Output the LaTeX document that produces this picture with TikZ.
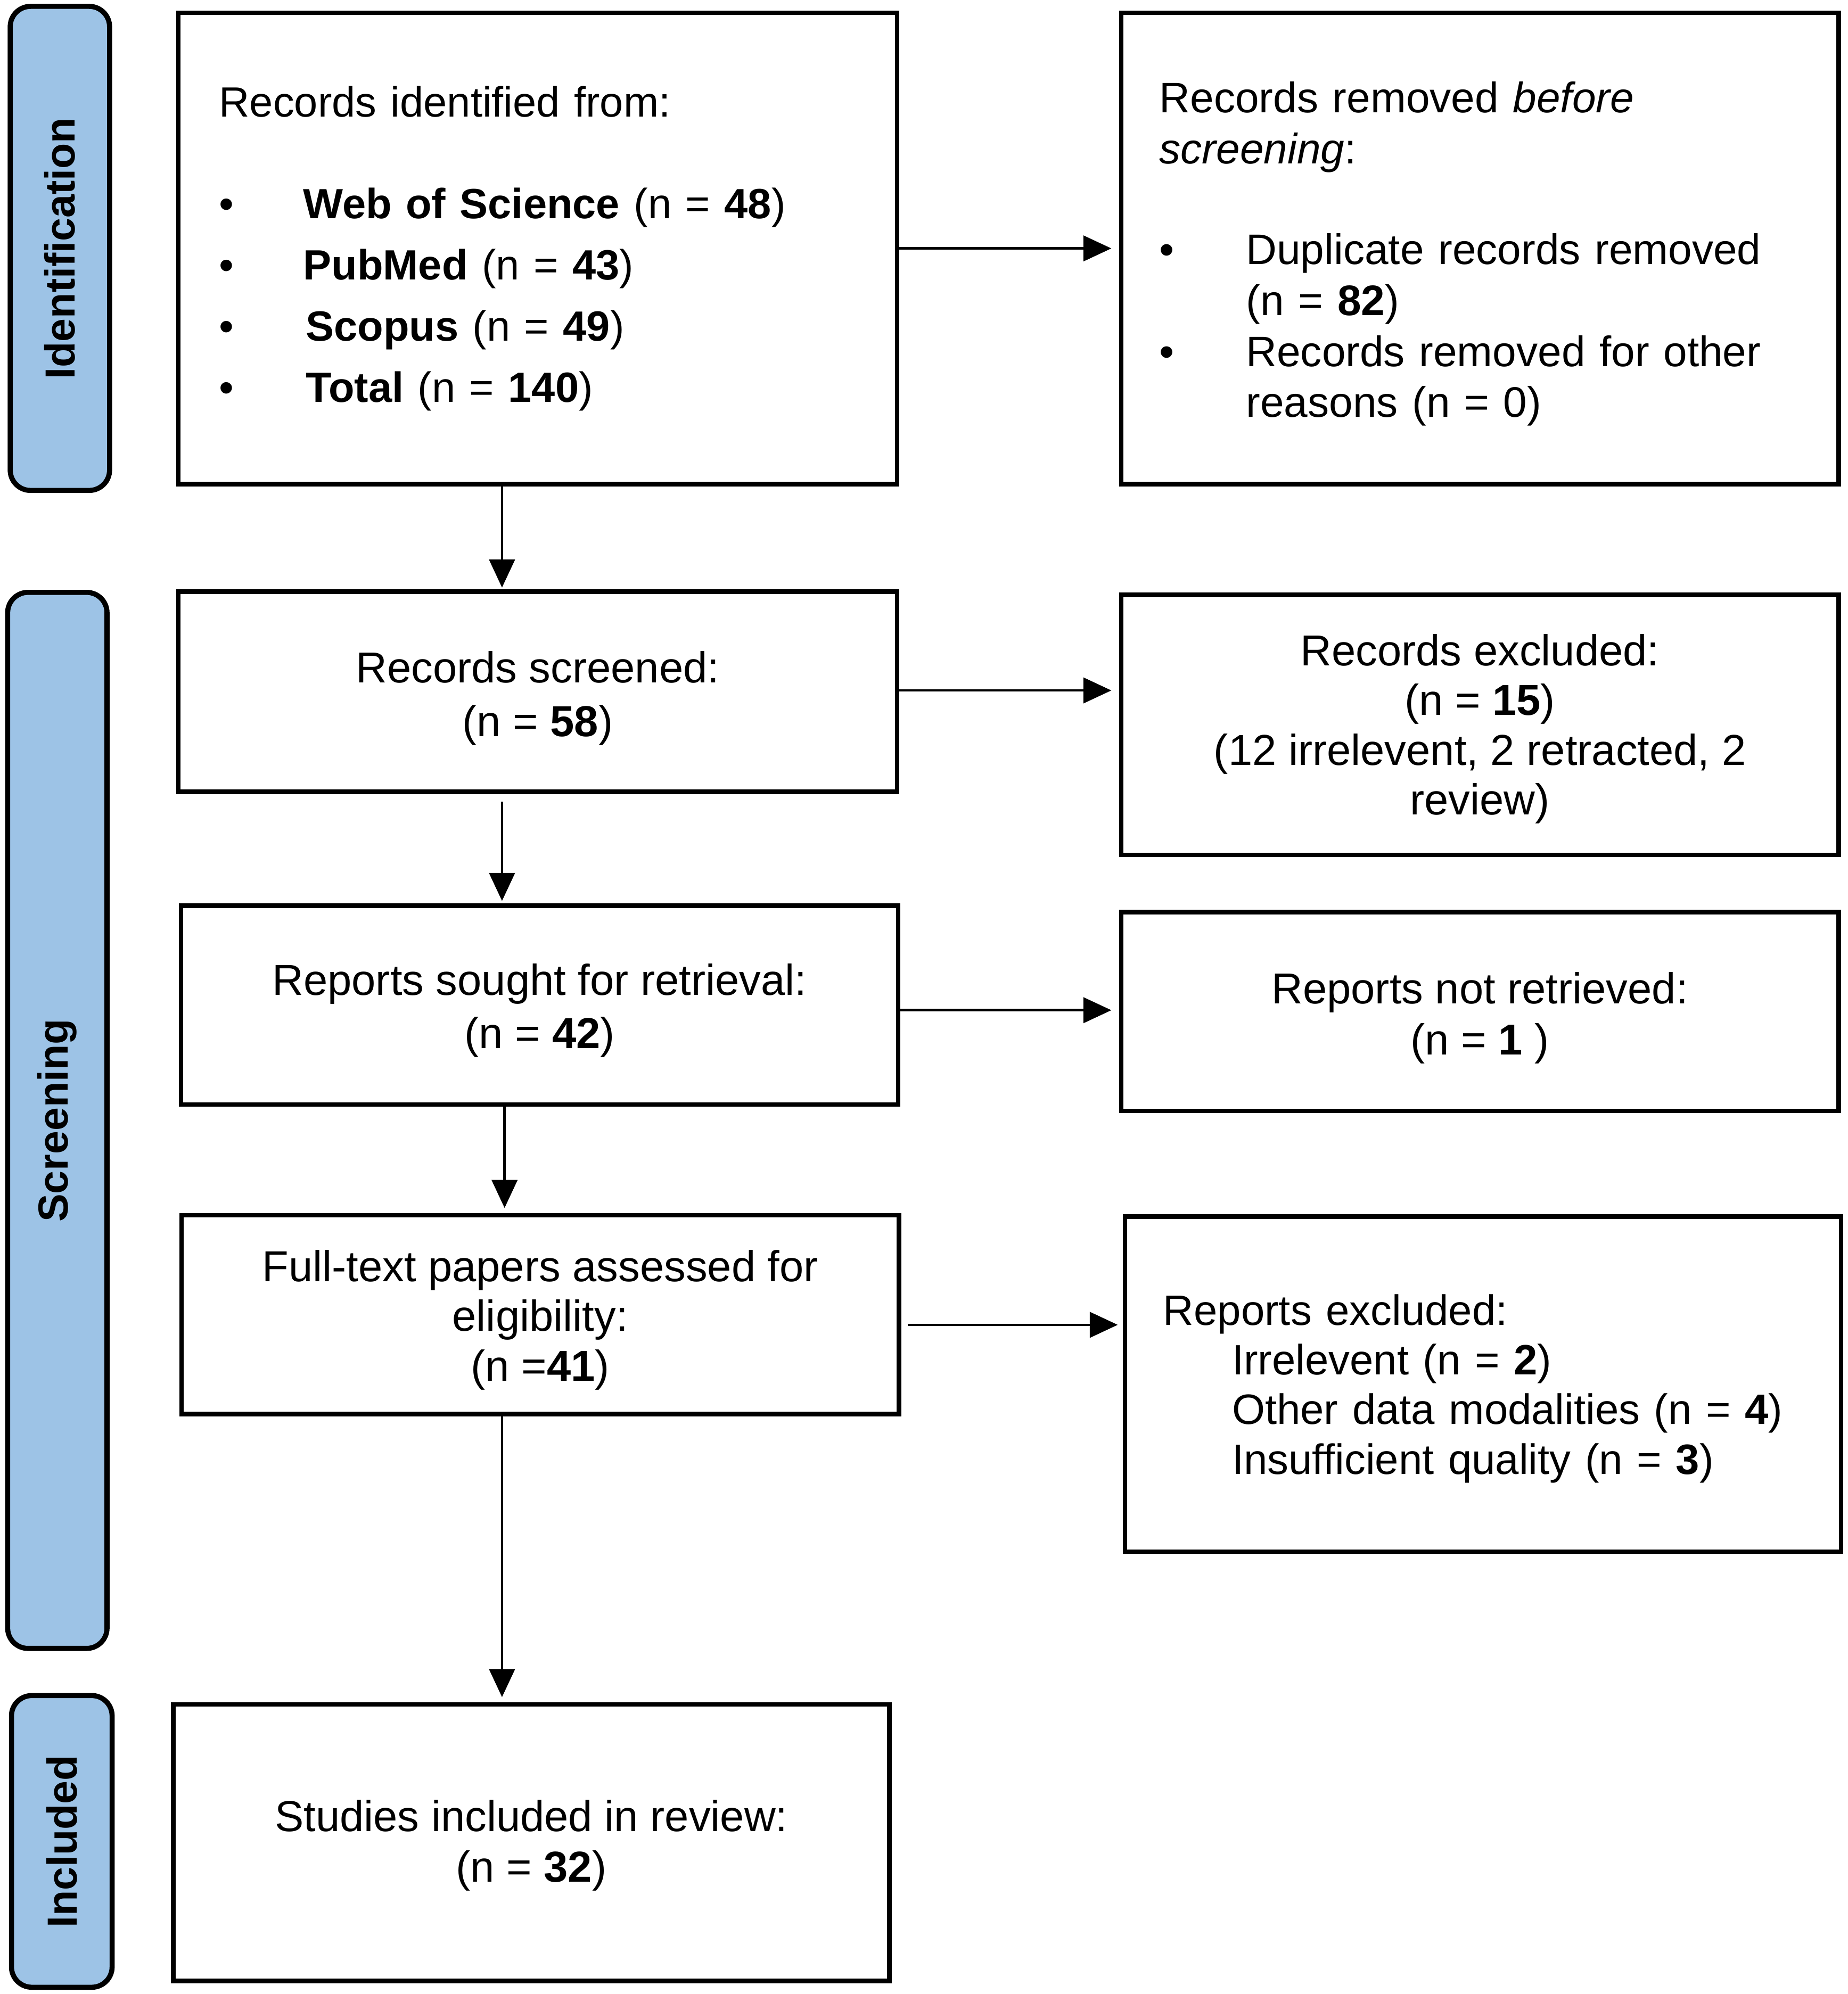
\documentclass[tikz,border=0pt]{standalone}
\usepackage{fontspec}
\setmainfont{Liberation Sans}
\usetikzlibrary{arrows.meta}
\definecolor{bandblue}{HTML}{9DC3E6}
\newcommand{\topstrut}[1]{\rule{0pt}{#1pt}}
\begin{document}
\begin{tikzpicture}[x=1pt,y=-1pt,
  box/.style={draw=black, line width=3.5pt, rectangle, inner sep=0pt, font=\fontsize{34}{40}\selectfont},
  band/.style={draw=black, line width=4pt, fill=bandblue, rounded corners=16pt, rotate=90, inner sep=0pt, font=\fontsize{33}{38}\selectfont\bfseries},
  arr/.style={line width=2pt, -{Triangle[length=22pt,width=20pt]}}
]
\fill[white] (0,0) rectangle (1450,1565.3);
\useasboundingbox (0,0) rectangle (1450,1565.3);

% phase bands
\node[band, minimum width=380pt, minimum height=78pt] (bid) at (47,195) {Identification};
\node[band, minimum width=829pt, minimum height=78pt] (bsc) at (45,879.5) {Screening};
\node[band, minimum width=229pt, minimum height=79pt] (bin) at (48.5,1445.5) {Included};

% boxes
\node[box, minimum width=564pt, minimum height=370pt, text width=500pt, align=left,
      font=\fontsize{33.2}{48}\selectfont] (b1) at (422,195) {%
Records identified from:\\[32pt]
\makebox[66pt][l]{\textbullet}\textbf{Web of Science} (n = \textbf{48})\\
\makebox[66pt][l]{\textbullet}\textbf{PubMed} (n = \textbf{43})\\
\makebox[68pt][l]{\textbullet}\textbf{Scopus} (n = \textbf{49})\\
\makebox[68pt][l]{\textbullet}\textbf{Total} (n = \textbf{140})};

\node[box, minimum width=563pt, minimum height=370pt, text width=503pt, align=left,
      font=\fontsize{33.5}{40}\selectfont] (b2) at (1161.5,195) {%
\topstrut{33}Records removed \textit{before}\\
\textit{screening}:\\[39pt]
\makebox[68pt][l]{\textbullet}Duplicate records removed\\
\hspace*{68pt}(n = \textbf{82})\\
\makebox[68pt][l]{\textbullet}Records removed for other\\
\hspace*{68pt}reasons (n = 0)};

\node[box, minimum width=564pt, minimum height=157pt, align=center,
      font=\fontsize{34}{42}\selectfont] (b3) at (422,543) {%
\topstrut{35}Records screened:\\(n = \textbf{58})};

\node[box, minimum width=563pt, minimum height=204pt, align=center,
      font=\fontsize{34}{39}\selectfont] (b4) at (1161.5,569) {%
\topstrut{31}Records excluded:\\(n = \textbf{15})\\(12 irrelevent, 2 retracted, 2\\review)};

\node[box, minimum width=563pt, minimum height=156pt, align=center,
      font=\fontsize{34}{42}\selectfont] (b5) at (423.5,789) {%
\topstrut{33}Reports sought for retrieval:\\(n = \textbf{42})};

\node[box, minimum width=563pt, minimum height=156pt, align=center] (b6) at (1161.5,794) {%
\topstrut{35}Reports not retrieved:\\(n = \textbf{1} )};

\node[box, minimum width=563pt, minimum height=156pt, align=center,
      font=\fontsize{34}{39}\selectfont] (b7) at (424,1032) {%
\topstrut{33}Full-text papers assessed for\\eligibility:\\(n =\textbf{41})};

\node[box, minimum width=562pt, minimum height=263pt, text width=502pt, align=left,
      font=\fontsize{33.3}{39}\selectfont] (b8) at (1164,1086.5) {%
\topstrut{31}Reports excluded:\\
\hspace*{54pt}Irrelevent (n = \textbf{2})\\
\hspace*{54pt}Other data modalities (n = \textbf{4})\\
\hspace*{54pt}Insufficient quality (n = \textbf{3})};

\node[box, minimum width=562pt, minimum height=217pt, align=center] (b9) at (417,1446.5) {%
\topstrut{29}Studies included in review:\\(n = \textbf{32})};

% connectors
\coordinate (ax) at (394,0);
\coordinate (ax2) at (396,0);
\draw[arr, shorten >=1.5pt] (b1.south -| ax) -- (b3.north -| ax);
\draw[arr, shorten <=6pt, shorten >=2pt] (b3.south -| ax) -- (b5.north -| ax);
\draw[arr, shorten >=4pt] (b5.south -| ax2) -- (b7.north -| ax2);
\draw[arr, shorten >=4pt] (b7.south -| ax) -- (b9.north -| ax);

\coordinate (h1) at (b1.east);
\coordinate (h3) at ([yshift=1pt]b3.east);
\coordinate (h5) at ([yshift=-4pt]b5.east);
\coordinate (h7) at ([yshift=-8pt]b7.east);
\draw[arr, shorten >=6pt] (h1) -- (h1 -| b2.west);
\draw[arr, shorten >=6pt] (h3) -- (h3 -| b4.west);
\draw[arr, shorten >=6pt] (h5) -- (h5 -| b6.west);
\draw[arr, shorten <=5pt, shorten >=4pt] (h7) -- (h7 -| b8.west);
\end{tikzpicture}
\end{document}
